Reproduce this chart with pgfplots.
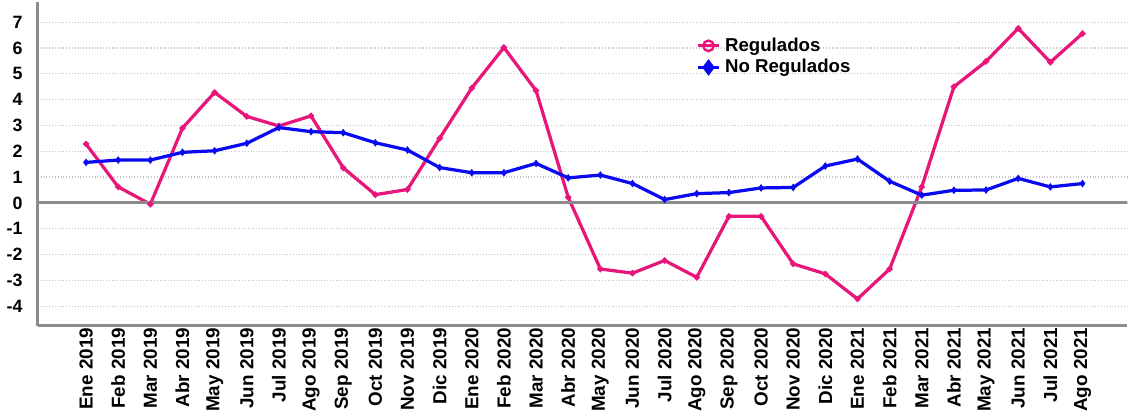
\documentclass[border=0pt]{standalone}
\usepackage{pgfplots}
\pgfplotsset{compat=1.18}
\usepackage{fontspec}
\setmainfont{Liberation Sans}
\definecolor{regpink}{RGB}{232,22,122}
\definecolor{noregblue}{RGB}{10,10,240}
\definecolor{axgray}{RGB}{140,140,140}

\begin{document}
\begin{tikzpicture}
\begin{axis}[
    scale only axis,
    width=538pt, height=160pt,
    xmin=-1.5, xmax=32.4,
    ymin=-4.75, ymax=7.8,
    axis x line=bottom, axis y line=left,
    axis line style={axgray, line width=1.5pt, -},
    xtick={0,...,31},
    xticklabels={Ene 2019,Feb 2019,Mar 2019,Abr 2019,May 2019,Jun 2019,Jul 2019,Ago 2019,Sep 2019,Oct 2019,Nov 2019,Dic 2019,
                 Ene 2020,Feb 2020,Mar 2020,Abr 2020,May 2020,Jun 2020,Jul 2020,Ago 2020,Sep 2020,Oct 2020,Nov 2020,Dic 2020,
                 Ene 2021,Feb 2021,Mar 2021,Abr 2021,May 2021,Jun 2021,Jul 2021,Ago 2021},
    x tick label style={rotate=90, anchor=east, font=\fontsize{9.3}{10}\selectfont\bfseries, inner sep=1pt},
    ytick={-4,...,7},
    y tick label style={font=\fontsize{8.8}{9}\selectfont\bfseries, xshift=-4pt},
    /pgf/number format/assume math mode=true,
    major tick length=0pt,
    ymajorgrids=true,
    grid style={densely dotted, gray!45, line width=0.6pt},
    legend style={draw=none, fill=none, at={(0.598,0.915)}, anchor=north west,
                  font=\fontsize{9.2}{10}\selectfont\bfseries, row sep=-1.5pt},
    legend cell align=left,
    legend image code/.code={
        \draw[mark repeat=2, mark phase=2, #1] plot coordinates {(0cm,0cm) (0.19cm,0cm) (0.38cm,0cm)};},
    clip=false,
]
\addplot[regpink, line width=1.6pt, mark=*, mark size=0.6pt,
    mark options={fill=regpink}, forget plot]
    coordinates {
    (0,2.28)(1,0.62)(2,-0.05)(3,2.9)(4,4.28)(5,3.35)(6,2.98)(7,3.37)
    (8,1.36)(9,0.32)(10,0.52)(11,2.5)(12,4.45)(13,6.02)(14,4.35)(15,0.22)
    (16,-2.56)(17,-2.72)(18,-2.23)(19,-2.88)(20,-0.52)(21,-0.52)(22,-2.36)(23,-2.75)
    (24,-3.72)(25,-2.56)(26,0.62)(27,4.5)(28,5.48)(29,6.76)(30,5.45)(31,6.56)
    };
\addplot[noregblue, line width=1.6pt, mark=diamond*, mark size=0.6pt, forget plot]
    coordinates {
    (0,1.57)(1,1.66)(2,1.66)(3,1.96)(4,2.02)(5,2.31)(6,2.92)(7,2.76)
    (8,2.72)(9,2.33)(10,2.05)(11,1.37)(12,1.17)(13,1.17)(14,1.53)(15,0.97)
    (16,1.08)(17,0.75)(18,0.13)(19,0.36)(20,0.4)(21,0.58)(22,0.6)(23,1.43)
    (24,1.7)(25,0.84)(26,0.3)(27,0.49)(28,0.5)(29,0.95)(30,0.62)(31,0.75)
    };
\addplot[axgray, line width=1.5pt, forget plot] coordinates {(-1.5,0)(32.4,0)};
\addlegendimage{regpink, line width=1.6pt, mark=o, mark size=2.6pt, mark options={line width=1.2pt}}
\addlegendentry{Regulados}
\addlegendimage{noregblue, line width=1.6pt, mark=diamond*, mark size=2.8pt}
\addlegendentry{No Regulados}
\end{axis}
\end{tikzpicture}
\end{document}
